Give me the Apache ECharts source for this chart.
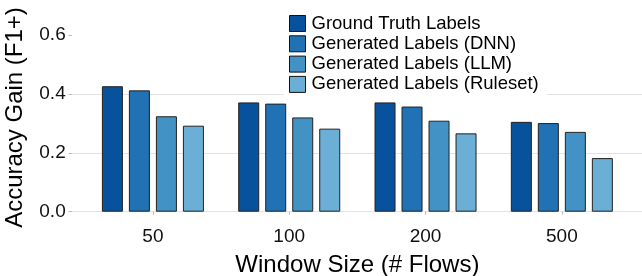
<!DOCTYPE html>
<html>
<head>
<meta charset="utf-8">
<script src="https://cdn.jsdelivr.net/npm/echarts@6/dist/echarts.min.js"></script>
<style>
  html, body { margin: 0; padding: 0; background: #fff; }
  #chart { width: 642px; height: 276px; }
</style>
</head>
<body>
<div id="chart"></div>
<script>
// window sizes (# flows)
const windowSizes = ['50', '100', '200', '500']
const seriesNames = [
  'Ground Truth Labels',
  'Generated Labels (DNN)',
  'Generated Labels (LLM)',
  'Generated Labels (Ruleset)',
]
// accuracy gain (F1+)
const groundTruth = [0.426, 0.371, 0.371, 0.305]
const genDnn = [0.412, 0.367, 0.357, 0.301]
const genLlm = [0.324, 0.320, 0.309, 0.271]
const genRuleset = [0.292, 0.282, 0.266, 0.182]
const yTicks = [0, 0.2, 0.4, 0.6]

const colors = ['#08519C', '#2171B5', '#4292C6', '#6BAED6']
const font = "'Liberation Sans', Arial, Helvetica, sans-serif"

const chart = echarts.init(document.getElementById('chart'), null, { renderer: 'canvas' })

const values = [groundTruth, genDnn, genLlm, genRuleset]
const series = values.map((data, i) => ({
  name: seriesNames[i],
  type: 'bar',
  xAxisIndex: 0,
  yAxisIndex: 0,
  data: data,
  barWidth: 21,
  barGap: '28.6%',
  itemStyle: { color: colors[i], borderColor: '#222', borderWidth: 1 },
}))

const yMax = 0.7188

chart.setOption({
  animation: false,
  backgroundColor: '#fff',
  textStyle: { fontFamily: font },
  grid: [
    // bars (panel bottom sits a bit below zero, like ggplot)
    { left: 84.75, right: 12, top: 0, bottom: 56.5, outerBoundsMode: 'none', containLabel: false },
    // background gridlines + y labels (spans whole panel width)
    { left: 72, right: 0, top: 0, bottom: 64.3, outerBoundsMode: 'none', containLabel: false },
  ],
  legend: {
    orient: 'vertical',
    left: 284,
    top: 12,
    padding: [2, 8, 2, 5],
    backgroundColor: '#fff',
    itemWidth: 16,
    itemHeight: 16,
    itemGap: 1.3,
    icon: 'rect',
    itemStyle: { borderColor: '#111', borderWidth: 1 },
    textStyle: { fontSize: 18.5, lineHeight: 16, color: '#000', fontFamily: font, padding: [0, 0, 0, 1] },
    data: seriesNames,
    z: 10,
  },
  xAxis: [
    {
      type: 'category',
      gridIndex: 0,
      data: windowSizes,
      axisLine: { show: false },
      axisTick: { show: true, alignWithLabel: true, length: 3, lineStyle: { color: '#bbb' } },
      axisLabel: { fontSize: 19, color: '#111', margin: 8 },
      name: 'Window Size (# Flows)',
      nameLocation: 'middle',
      nameGap: 34,
      nameTextStyle: { fontSize: 24, color: '#000' },
    },
    { type: 'value', gridIndex: 1, show: false, min: 0, max: 1 },
  ],
  yAxis: [
    { type: 'value', gridIndex: 0, min: -0.0265, max: yMax, show: false },
    {
      type: 'value',
      gridIndex: 1,
      min: 0,
      max: yMax,
      interval: 0.2,
      axisLine: { show: false },
      axisTick: { show: true, length: 3.5, customValues: yTicks, lineStyle: { color: '#bbb' } },
      axisLabel: {
        fontSize: 19,
        color: '#111',
        margin: 6.3,
        customValues: yTicks,
        formatter: v => v.toFixed(1),
      },
      splitLine: { show: true, showMaxLine: false, lineStyle: { color: '#e2e2e2', width: 1 } },
    },
  ],
  graphic: [
    {
      type: 'text',
      x: 15,
      y: 117.5,
      rotation: Math.PI / 2,
      style: {
        text: 'Accuracy Gain (F1+)',
        fontSize: 24,
        fontFamily: font,
        fill: '#000',
        align: 'center',
        verticalAlign: 'middle',
      },
    },
  ],
  series: series,
})

window.addEventListener('resize', () => chart.resize())
</script>
</body>
</html>
